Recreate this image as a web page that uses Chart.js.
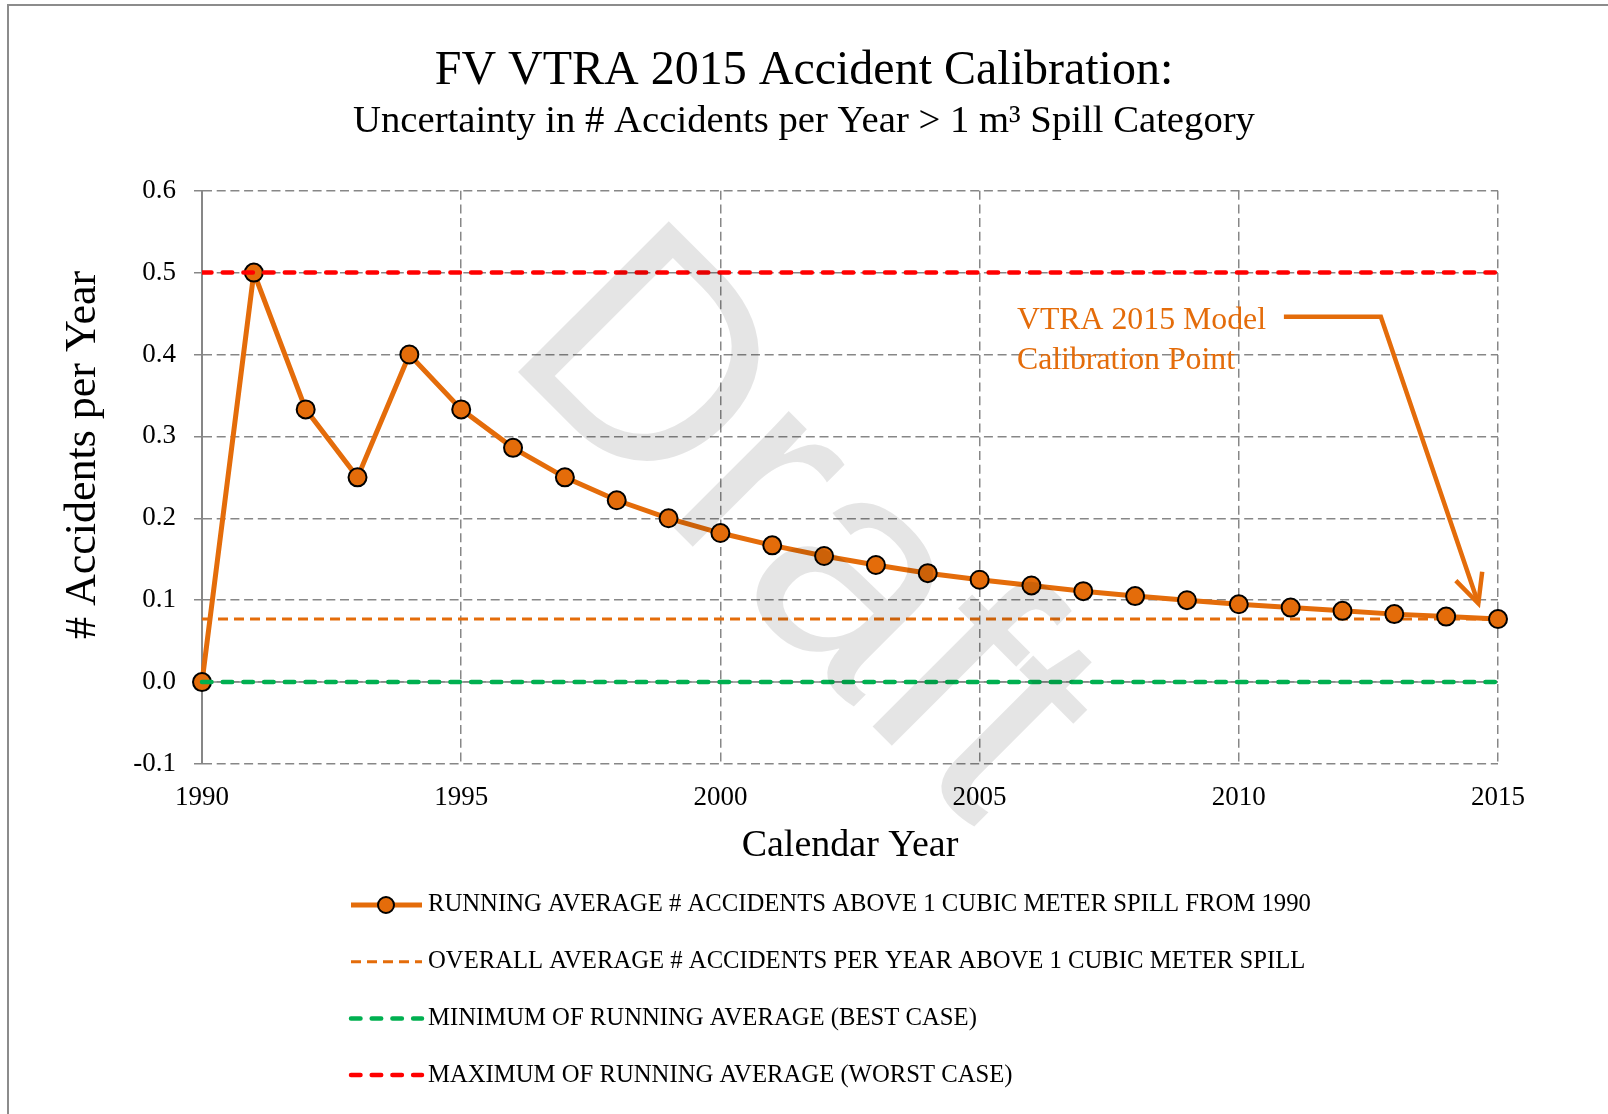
<!DOCTYPE html>
<html>
<head>
<meta charset="utf-8">
<title>FV VTRA 2015 Accident Calibration</title>
<script src="https://cdn.jsdelivr.net/npm/chart.js@4.4.1/dist/chart.umd.min.js"></script>
<style>
  html, body { margin: 0; padding: 0; background: #fff; overflow: hidden; }
  #frame {
    position: absolute; left: 7px; top: 4px; width: 1700px; height: 1200px;
    border-top: 2px solid #8c8c8c; border-left: 2px solid #8c8c8c;
  }
  #chart { position: absolute; left: 0; top: 0; }
</style>
</head>
<body>
<div id="frame"></div>
<canvas id="chart" width="1608" height="1114"></canvas>
<script>
// values
const years = [1990, 1991, 1992, 1993, 1994, 1995, 1996, 1997, 1998, 1999, 2000, 2001, 2002,
               2003, 2004, 2005, 2006, 2007, 2008, 2009, 2010, 2011, 2012, 2013, 2014, 2015];
const runningAverage = [0, 0.5, 0.333, 0.25, 0.4, 0.333, 0.286, 0.25, 0.222, 0.2, 0.182, 0.167, 0.154,
                        0.143, 0.133, 0.125, 0.118, 0.111, 0.105, 0.1, 0.095, 0.091, 0.087, 0.083, 0.08, 0.077];
const lineYears = [1990, 2015];
const overallAverage = [0.077, 0.077];
const minimumRunning = [0, 0];
const maximumRunning = [0.5, 0.5];
const xTickValues = [1990, 1995, 2000, 2005, 2010, 2015];
const yTickValues = [-0.1, 0, 0.1, 0.2, 0.3, 0.4, 0.5, 0.6];

const ORANGE = "#E46C0A";
const GRID = "#878787";
const SERIF = '"Liberation Serif", "Times New Roman", serif';

const toPoints = (xs, ys) => xs.map((x, i) => ({ x: x, y: ys[i] }));

// horizontal axis crosses at zero
const zeroAxis = {
  id: "zeroAxis",
  beforeDatasetsDraw(chart) {
    const { ctx, chartArea, scales } = chart;
    const y0 = scales.y.getPixelForValue(0);
    ctx.save();
    ctx.strokeStyle = GRID;
    ctx.lineWidth = 1.5;
    ctx.beginPath();
    ctx.moveTo(chartArea.left, y0);
    ctx.lineTo(chartArea.right, y0);
    ctx.stroke();
    ctx.restore();
  },
};

// "VTRA 2015 Model Calibration Point" callout with arrow
const callout = {
  id: "callout",
  afterDatasetsDraw(chart) {
    const { ctx } = chart;
    const x = chart.scales.x, y = chart.scales.y;
    ctx.save();
    ctx.fillStyle = ORANGE;
    ctx.font = "31.8px " + SERIF;
    ctx.textAlign = "left";
    ctx.textBaseline = "middle";
    ctx.fillText("VTRA 2015 Model", x.getPixelForValue(2005.72), y.getPixelForValue(0.441));
    ctx.fillText("Calibration Point", x.getPixelForValue(2005.72), y.getPixelForValue(0.393));

    const p0 = [x.getPixelForValue(2010.87), y.getPixelForValue(0.446)];
    const p1 = [x.getPixelForValue(2012.74), y.getPixelForValue(0.446)];
    const p2 = [x.getPixelForValue(2014.62), y.getPixelForValue(0.096)];
    ctx.strokeStyle = ORANGE;
    ctx.lineWidth = 4.5;
    ctx.beginPath();
    ctx.moveTo(p0[0], p0[1]);
    ctx.lineTo(p1[0], p1[1]);
    ctx.lineTo(p2[0], p2[1]);
    ctx.stroke();
    const back = Math.atan2(p1[1] - p2[1], p1[0] - p2[0]);
    ctx.beginPath();
    ctx.moveTo(p2[0] + 32 * Math.cos(back - 0.45), p2[1] + 32 * Math.sin(back - 0.45));
    ctx.lineTo(p2[0], p2[1]);
    ctx.lineTo(p2[0] + 32 * Math.cos(back + 0.45), p2[1] + 32 * Math.sin(back + 0.45));
    ctx.stroke();
    ctx.restore();
  },
};

// y title, stacked legend, and the translucent "Draft" stamp on top
const extras = {
  id: "extras",
  afterDraw(chart) {
    const { ctx, chartArea } = chart;
    ctx.save();
    ctx.fillStyle = "#000";
    ctx.font = "44px " + SERIF;
    ctx.textAlign = "center";
    ctx.textBaseline = "middle";
    ctx.translate(83, 455);
    ctx.rotate(-Math.PI / 2);
    ctx.fillText("# Accidents per Year", 0, 0);
    ctx.restore();

    const top = chartArea.bottom + 141;
    chart.data.datasets.forEach((ds, i) => {
      const cy = top + i * 56.7;
      ctx.save();
      ctx.strokeStyle = ds.borderColor;
      ctx.lineWidth = ds.borderWidth;
      ctx.lineCap = ds.borderCapStyle || "butt";
      ctx.setLineDash(ds.borderDash || []);
      ctx.beginPath();
      ctx.moveTo(351, cy);
      ctx.lineTo(422, cy);
      ctx.stroke();
      if (ds.pointRadius > 0) {
        ctx.setLineDash([]);
        ctx.fillStyle = ds.pointBackgroundColor;
        ctx.strokeStyle = ds.pointBorderColor;
        ctx.lineWidth = ds.pointBorderWidth;
        ctx.beginPath();
        ctx.arc(386, cy, 8, 0, Math.PI * 2);
        ctx.fill();
        ctx.stroke();
      }
      ctx.fillStyle = "#000";
      ctx.font = "24.7px " + SERIF;
      ctx.textAlign = "left";
      ctx.textBaseline = "middle";
      ctx.fillText(ds.label, 428, cy);
      ctx.restore();
    });

    ctx.save();
    ctx.translate(500, 354);
    ctx.rotate(Math.PI / 4);
    ctx.font = '310px "Liberation Sans", Arial, sans-serif';
    ctx.fillStyle = "rgba(0, 0, 0, 0.1)";
    ctx.textAlign = "left";
    ctx.textBaseline = "alphabetic";
    ctx.fillText("Draft", 0, 0);
    ctx.restore();
  },
};

Chart.defaults.font.family = SERIF;
Chart.defaults.color = "#000";

new Chart(document.getElementById("chart"), {
  type: "line",
  data: {
    datasets: [
      {
        label: "RUNNING AVERAGE # ACCIDENTS ABOVE 1 CUBIC METER SPILL FROM 1990",
        data: toPoints(years, runningAverage),
        borderColor: ORANGE,
        borderWidth: 5,
        pointRadius: 9,
        pointBackgroundColor: ORANGE,
        pointBorderColor: "#000",
        pointBorderWidth: 2,
        clip: false,
        order: 3,
      },
      {
        label: "OVERALL AVERAGE # ACCIDENTS PER YEAR ABOVE 1 CUBIC METER SPILL",
        data: toPoints(lineYears, overallAverage),
        borderColor: ORANGE,
        borderWidth: 3,
        borderDash: [10, 6],
        pointRadius: 0,
        order: 4,
      },
      {
        label: "MINIMUM OF RUNNING AVERAGE (BEST CASE)",
        data: toPoints(lineYears, minimumRunning),
        borderColor: "#00B050",
        borderWidth: 4.5,
        borderDash: [9.5, 11.2],
        borderCapStyle: "round",
        pointRadius: 0,
        clip: false,
        order: 2,
      },
      {
        label: "MAXIMUM OF RUNNING AVERAGE (WORST CASE)",
        data: toPoints(lineYears, maximumRunning),
        borderColor: "#FF0000",
        borderWidth: 4.5,
        borderDash: [9.5, 11.2],
        borderCapStyle: "round",
        pointRadius: 0,
        order: 1,
      },
    ],
  },
  options: {
    responsive: false,
    animation: false,
    devicePixelRatio: 1,
    layout: { padding: { top: 0, left: 110, right: 110, bottom: 245 } },
    plugins: {
      legend: { display: false },
      tooltip: { enabled: false },
      title: {
        display: true,
        text: "FV VTRA 2015 Accident Calibration:",
        color: "#000",
        font: { size: 48, weight: "normal", lineHeight: 1.15 },
        padding: { top: 44, bottom: 0 },
      },
      subtitle: {
        display: true,
        text: "Uncertainty in # Accidents per Year > 1 m\u00B3 Spill Category",
        color: "#000",
        font: { size: 38.7, lineHeight: 1.15 },
        padding: { top: 0, bottom: 47 },
      },
    },
    scales: {
      x: {
        type: "linear",
        min: 1990,
        max: 2015,
        afterBuildTicks: (scale) => { scale.ticks = xTickValues.map((v) => ({ value: v })); },
        afterFit: (scale) => { scale.height = 105; },
        ticks: { font: { size: 27 }, padding: 18, maxRotation: 0, callback: (v) => String(v) },
        grid: { color: GRID, lineWidth: 1.5, drawTicks: false, borderDash: [9, 4.7] },
        border: { display: false, dash: [9, 4.7] },
        title: { display: true, text: "Calendar Year", font: { size: 38 }, padding: { top: 0, bottom: 0 } },
      },
      y: {
        type: "linear",
        min: -0.1,
        max: 0.6,
        afterBuildTicks: (scale) => { scale.ticks = yTickValues.map((v) => ({ value: v })); },
        afterFit: (scale) => { scale.width = 92; },
        ticks: { font: { size: 27 }, padding: 18, callback: (v) => v.toFixed(1) },
        grid: {
          color: GRID, lineWidth: 1.5, drawTicks: true, tickLength: 8,
          tickColor: GRID, tickBorderDash: [], borderDash: [9, 4.7],
        },
        border: { display: true, color: GRID, width: 2, dash: [9, 4.7] },
      },
    },
  },
  plugins: [zeroAxis, callout, extras],
});
</script>
</body>
</html>
